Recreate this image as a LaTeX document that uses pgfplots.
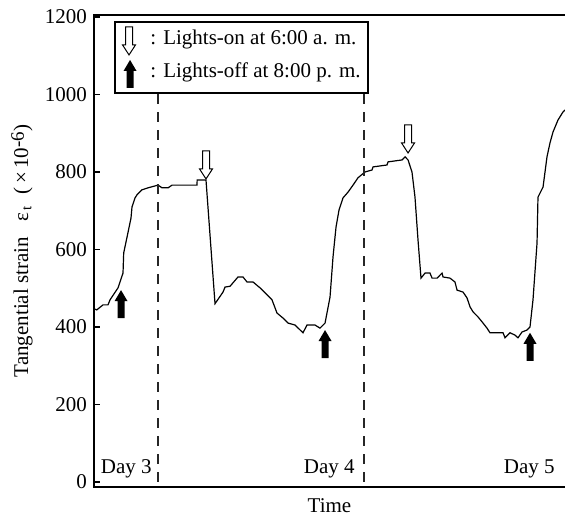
\documentclass[border=0pt]{standalone}
\usepackage{fontspec}
\setmainfont{Liberation Serif}
\usepackage{pgfplots}
\pgfplotsset{compat=1.18}

% block arrows (tip at the given point)
\newcommand{\lightsoff}[1]{%
  \fill[black] (#1) -- ++(3.25pt,-5.5pt) -- ++(-1.5pt,0pt) -- ++(0pt,-8.5pt)
    -- ++(-3.5pt,0pt) -- ++(0pt,8.5pt) -- ++(-1.5pt,0pt) -- cycle;}
\newcommand{\lightson}[1]{%
  \filldraw[fill=white,draw=black,line width=0.5pt] (#1) -- ++(3.25pt,5pt)
    -- ++(-1.5pt,0pt) -- ++(0pt,9pt) -- ++(-3.5pt,0pt) -- ++(0pt,-9pt)
    -- ++(-1.5pt,0pt) -- cycle;}

\begin{document}
\begin{tikzpicture}[font=\fontsize{10.5}{12.6}\selectfont]
  \begin{axis}[
    at={(0,0)},anchor=south west,
    scale only axis,width=235.5pt,height=236pt,
    xmin=-7.46,xmax=47.42,ymin=-13,ymax=1205,
    xtick=\empty,
    ytick={0,200,...,1200},
    ytick pos=left,tick align=inside,
    major tick length=3pt,
    tick style={black,line width=0.6pt},
    axis line style={draw=none},
    /pgf/number format/1000 sep={},
    /pgf/number format/assume math mode=true,
    xlabel={Time},
    ylabel={Tangential strain\enspace\ ε\textsubscript{\,t}\enspace(\,×\,10\raisebox{0.45ex}{\fontsize{9.5}{10}\selectfont -6})},
    every axis x label/.style={at={(axis description cs:0.5,-0.04)},anchor=center},
    every axis y label/.style={at={(axis description cs:-0.153,0.5)},rotate=90,anchor=center},
    clip=false,
  ]
    \addplot[black,line width=0.6pt,sharp plot] coordinates {
      (-7.46,447) (-7.14,444) (-6.41,457) (-5.83,457) (-5.59,470) (-4.66,501)
      (-4.08,539) (-4.0,591) (-3.61,632) (-3.15,681) (-3.03,710) (-2.68,733)
      (-2.45,741) (-1.86,754) (-1.17,759) (0,766) (0.47,759) (1.17,759)
      (1.63,766) (4.54,766) (4.56,779) (5.59,779) (6.64,460) (7.57,490)
      (7.81,503) (8.39,505) (9.32,529) (9.90,529) (10.37,516) (11.07,516)
      (11.88,501) (12.70,483) (13.28,470) (13.86,436) (14.56,423) (15.15,410)
      (15.96,405) (16.89,385) (17.36,405) (18.29,405) (18.87,397) (19.46,410)
      (20.04,477) (20.39,581) (20.74,658) (21.09,702) (21.55,733) (22.14,748)
      (22.72,766) (23.30,785) (24.12,800) (24.93,805) (25.05,813) (26.68,818)
      (26.80,826) (28.43,831) (28.78,839) (29.13,831) (29.59,800) (29.94,735)
      (30.29,625) (30.64,526) (31.11,539) (31.69,539) (31.93,526) (32.51,526)
      (33.09,539) (33.21,529) (34.02,526) (34.60,516) (34.84,495) (35.54,490)
      (36.00,475) (36.35,452) (36.70,439) (37.28,426) (37.87,410) (38.33,397)
      (38.68,385) (40.20,385) (40.43,372) (41.01,385) (41.59,379) (41.94,372)
      (42.41,387) (42.99,392) (43.34,400) (43.69,470) (44.16,617) (44.27,735)
      (44.86,761) (45.32,839) (45.67,875) (46.02,903) (46.60,934) (47.19,955)
      (47.42,960)
    };
    % frame: left, bottom, top
    \draw[black,line width=0.75pt] (rel axis cs:1,1) -- (rel axis cs:0,1)
      -- (rel axis cs:0,0) -- (rel axis cs:1,0);
    % day boundaries
    \draw[black!85,line width=0.6pt,dash pattern=on 5pt off 4pt] (0,1000) -- (0,-13);
    \draw[black!85,line width=0.6pt,dash pattern=on 5pt off 4pt] (24,1000) -- (24,-13);
    \node[anchor=base east,inner sep=0pt] at (-0.7,22) {Day 3};
    \node[anchor=base east,inner sep=0pt] at (22.95,22) {Day 4};
    \node[anchor=base east,inner sep=0pt] at (46.25,22) {Day 5};
    % lights arrows
    \lightson{5.59,782}
    \lightson{29.13,849}
    \lightsoff{-4.31,495}
    \lightsoff{19.46,392}
    \lightsoff{43.34,385}
    % legend
    \draw[black,line width=0.75pt,fill=white] (-5.01,1004) rectangle (24.47,1187);
    \lightson{-3.38,1102}
    \lightsoff{-3.26,1089}
    \node[anchor=west,inner sep=0pt] at (-0.93,1141) {: Lights-on at 6:00 a. m.};
    \node[anchor=west,inner sep=0pt] at (-0.93,1058) {: Lights-off at 8:00 p. m.};
  \end{axis}
  \pgfresetboundingbox
  \path (-47pt,-14.5pt) rectangle (235.5pt,243.5pt);
\end{tikzpicture}
\end{document}
